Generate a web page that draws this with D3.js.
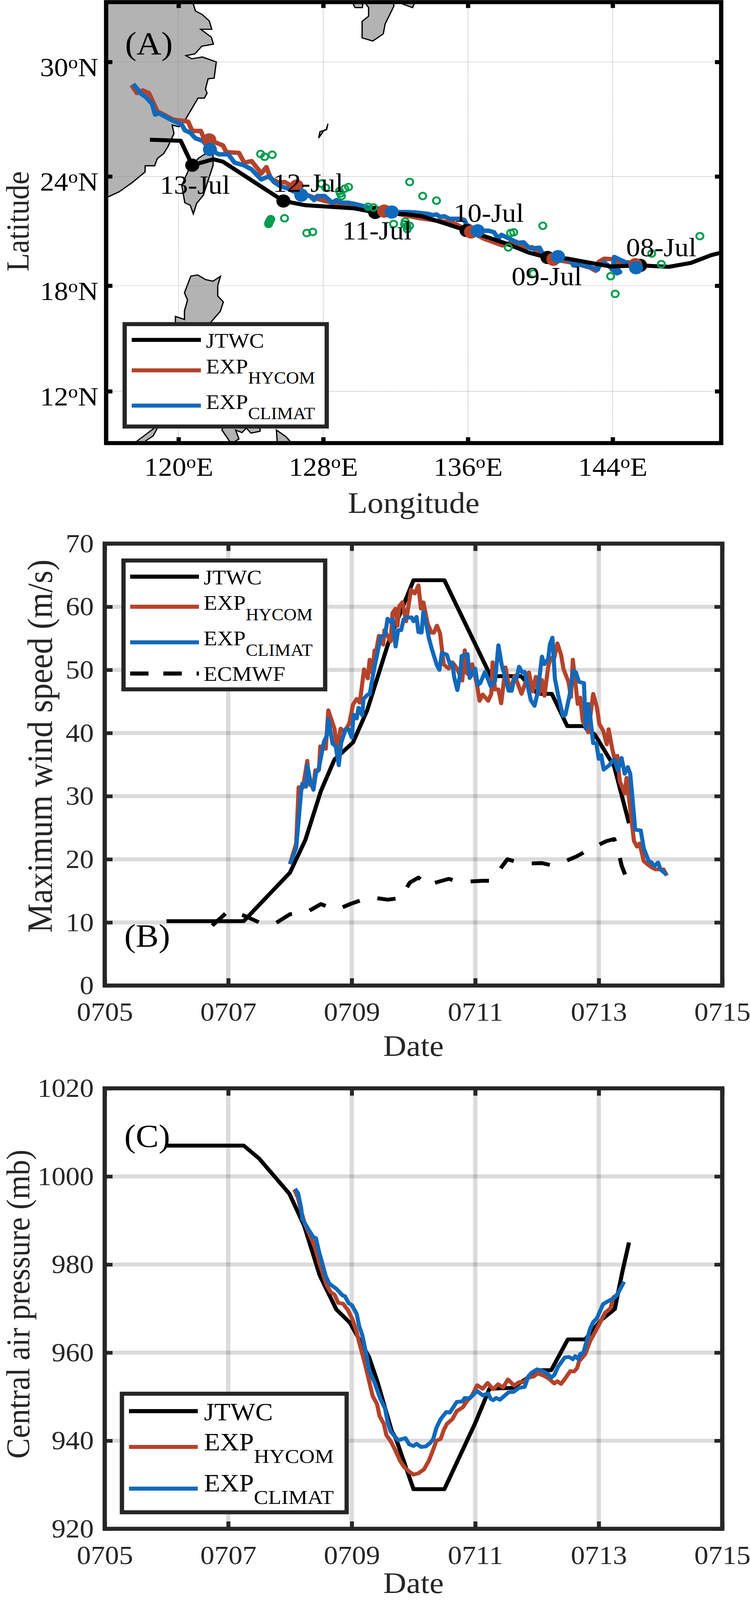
<!DOCTYPE html>
<html>
<head>
<meta charset="utf-8">
<script src="https://cdn.jsdelivr.net/npm/d3@7"></script>
<style>
  body { margin: 0; background: #fff; overflow: hidden; }
  text { font-family: "Liberation Serif", serif; }
</style>
</head>
<body>
<div id="chart"></div>
<script>
// Panel A: land outlines, [lon, lat]
const chinaCoast = [[116,33.2],[120.75,33.2],[120.82,32.9],[120.94,32.56],[121.29,32.4],[121.7,32.07],[121.84,31.65],[121.23,31.65],[121.82,31.25],[121.93,30.9],[121.29,30.8],[120.91,30.41],[120.41,30.32],[120.73,30.16],[121.32,30.25],[122.09,30],[121.97,29.17],[121.64,29.14],[121.49,28.61],[121.58,28.4],[121.43,28.14],[121.08,28.14],[120.35,26.97],[120.03,26.64],[119.65,26.73],[119.75,26.29],[119.42,25.6],[119.18,25.22],[118.83,24.96],[118.68,24.57],[118.16,24.57],[118.15,24.24],[117.43,23.66],[116.72,23.17],[116.12,22.9],[115.8,22.8]];
const taiwan = [[121.46,25.2],[121.11,24.98],[120.59,24.41],[120.18,23.52],[120.35,22.58],[120.65,22.44],[120.82,21.97],[121,22.54],[121.37,22.98],[121.91,24.59],[121.91,25.12]];
const kyushu = [[130.3,33.2],[130.37,32.9],[130.51,32.73],[130.51,32.3],[130.15,32.05],[130.15,31.22],[130.74,31.06],[131.32,31.42],[131.42,31.91],[131.91,32.81],[131.83,33.2]];
const koshiki = [[129.6,33.2],[129.66,32.9],[129.76,32.73],[130.17,32.73],[130.21,33.2]];
const shikoku = [[132.3,33.2],[132.41,32.9],[132.94,32.73],[133.02,32.9],[133.05,33.2]];
const okinawa = [[128.26,26.8],[128.17,26.5],[127.82,26.38],[127.75,26.05],[128.02,26.42],[128.19,26.5]];
const luzon = [[120.68,18.53],[121.06,18.6],[121.5,18.34],[121.91,18.25],[122.32,18.52],[122.17,18],[122.17,17.42],[122.48,17.09],[122.31,16.56],[121.76,15.91],[121.5,15.3],[119.83,15.3],[119.83,15.91],[119.83,16.27],[120.33,16.1],[120.33,16.58],[120.5,17.2],[120.33,17.6]];
const palawan = [[118.9,10.4],[118.83,9.87],[118.6,9.42],[118.19,9.13],[118.1,8.8],[117.6,8.8],[117.72,9.13],[118.66,9.87]];
const visayas = [[122.64,10.4],[122.4,9.76],[122.81,9.13],[122.9,8.8],[123.1,8.8],[123.16,9.13],[123.34,9.24],[123.16,9.76],[123.51,9.61],[123.75,9.87],[124.01,9.58],[124.51,9.69],[124.51,10.4]];
const mindanao = [[125.41,9.76],[125.92,9.39],[126.15,9.13],[126.25,8.8],[125.48,8.8]];
const landPolygons = [chinaCoast, taiwan, kyushu, koshiki, shikoku, okinawa, luzon, palawan, visayas, mindanao];

// Panel A: tracks, [lon, lat]
const jtwcTrack = [[150,19.84],[149.44,19.7],[148.33,19.27],[147.1,19.05],[145.52,19.13],[143.88,19.07],[141.48,19.51],[140.4,19.57],[139.37,19.84],[138.2,20.31],[136.91,20.75],[135.92,21.06],[134.76,21.44],[133.46,21.84],[132.6,21.95],[130.87,22.05],[129.72,22.27],[127.03,22.44],[125.8,22.67],[122.46,24.79],[121.93,24.92],[120.76,24.6],[120.12,25.9],[118.42,25.96]];
const hycomTrack = [[145.25,19.17],[144.87,19.3],[144.23,19.27],[143.95,18.9],[144.12,19.47],[143.53,19.5],[143.24,19.33],[143.06,18.83],[142.77,19],[141.83,19.27],[140.72,19.47],[139.84,19.84],[139.55,20.14],[139.2,20.11],[138.32,20.37],[137.91,20.24],[136.91,20.6],[136.17,20.98],[135.2,21.47],[133.3,21.74],[131.37,22.12],[130.54,22.27],[129.72,22.49],[128.67,22.53],[127.73,22.77],[127.03,23.03],[126.53,23.48],[126.2,23.52],[125.86,23.7],[125.57,23.66],[125.1,23.88],[124.86,24.5],[124.57,24.15],[124.45,24.33],[124.04,24.82],[123.63,24.74],[123.34,25.26],[122.64,25.3],[122.46,25.65],[121.7,25.95],[121.41,26.03],[121.23,26.42],[120.76,26.42],[120.53,26.91],[119.7,27.02],[118.83,27.45],[118.36,28.4],[118.03,28.54],[117.7,28.4],[117.4,28.82]];
const climatTrack = [[145.29,19],[144.87,19.23],[144.09,19.6],[144.05,19.2],[144.41,18.76],[144.23,18.69],[143.91,19],[143.53,19.31],[143.24,19.07],[143.18,18.9],[142.18,19.2],[141.83,19.13],[141.72,19.37],[140.98,19.62],[140.13,19.77],[139.96,20.11],[139.49,20.07],[139.31,20.17],[139.08,20.41],[138.79,20.38],[138.56,20.48],[137.85,20.82],[137.68,20.62],[137.44,20.96],[137.15,21.05],[136.54,21.04],[135.91,21.4],[135.8,21.64],[135.55,21.7],[134.98,21.7],[134.69,21.84],[134.47,21.8],[134.26,21.94],[134.04,21.9],[133.82,21.97],[133.18,22.04],[132.67,22.07],[131.79,22.07],[130.54,22.32],[129.84,22.49],[129.37,22.58],[129.02,22.58],[128.73,22.72],[128.49,22.58],[128.08,22.94],[127.67,22.94],[127.5,22.72],[127.26,22.94],[126.79,22.99],[126.03,23.35],[125.62,23.48],[125.27,23.7],[125.04,24.02],[124.57,23.84],[124.04,24.38],[123.63,24.59],[123.1,24.74],[122.75,25.18],[122.23,25.18],[121.74,25.44],[121.34,25.9],[120.94,26.03],[120.65,26.33],[120.35,26.46],[120.18,26.76],[119.65,26.98],[118.89,27.36],[118.71,27.28],[118.54,27.84],[118.19,28.2],[117.95,28.35],[117.49,28.87]];

// Daily positions, 08-Jul to 13-Jul
const dateLabels = ["08-Jul","09-Jul","10-Jul","11-Jul","12-Jul","13-Jul"];
const jtwcDaily = [[145.52,19.13],[140.4,19.57],[135.92,21.06],[130.87,22.05],[125.8,22.67],[120.76,24.6]];
const hycomDaily = [[145.25,19.17],[140.72,19.47],[136.17,20.98],[131.37,22.12],[126.53,23.48],[121.7,25.95]];
const climatDaily = [[145.29,19],[140.98,19.62],[136.54,21.04],[131.79,22.07],[126.79,22.99],[121.74,25.44]];

const ensemblePoints = [[124.54,25.2],[124.76,25.05],[125.18,25.16],[132.78,23.7],[133.5,22.94],[134.26,22.69],[127.9,23.61],[128.14,23.39],[128.9,23.21],[129.19,23.34],[129.4,23.43],[129.01,22.94],[128.95,23.08],[130.48,22.36],[130.78,22.32],[125.86,21.73],[124.98,21.42],[125,21.5],[125.05,21.58],[125.1,21.68],[125.06,21.62],[127.09,20.92],[127.42,20.98],[131.89,21.42],[132.53,21.55],[132.77,21.32],[132.65,21.14],[132.5,21.4],[132.62,21.3],[138.23,20.13],[138.36,20.92],[138.53,20.96],[140.14,21.32],[139.61,18.68],[143.89,18.53],[144.14,17.54],[146.16,19.79],[146.69,19.2],[148.82,20.75]];

const lonTicks = [120,128,136,144];
const latTicks = [12,18,24,30];

// Panel B: maximum wind speed, [day of July, m/s]
const jtwcWind = [[6,10.2],[7.25,10.2],[8,17.9],[8.25,23.1],[8.5,30.8],[8.72,35.8],[9.02,38.5],[9.25,43.6],[9.6,54.5],[10,64.2],[10.5,64.2],[10.89,56.3],[11.25,49],[11.74,49],[12.01,46.2],[12.24,46.2],[12.49,41.1],[12.76,41.1],[12.94,39.7],[13.25,34.7],[13.49,25.7]];
const hycomWind = [[8,19.3],[8.1,22.5],[8.14,31.4],[8.21,31.4],[8.28,35.6],[8.31,31.9],[8.38,31.4],[8.41,34.1],[8.47,34.2],[8.49,37.9],[8.58,37.5],[8.62,43.6],[8.72,40.7],[8.76,37.6],[8.82,40.7],[8.88,40.2],[8.96,41.5],[9.02,44.5],[9.08,45.4],[9.13,44.8],[9.2,50.1],[9.26,48.65],[9.29,51.6],[9.33,49.6],[9.37,53.1],[9.4,53.2],[9.44,55.4],[9.51,54],[9.53,56.3],[9.63,54.5],[9.66,59],[9.71,59.7],[9.74,57],[9.77,60.1],[9.82,60.7],[9.88,57.7],[9.96,62.7],[10.02,62.1],[10.08,63.4],[10.12,59.7],[10.16,60.7],[10.23,57.3],[10.29,55.9],[10.33,55.9],[10.38,57],[10.43,55.8],[10.49,50.85],[10.57,50.2],[10.63,51.2],[10.7,50.3],[10.79,48.3],[10.83,53.1],[10.85,49.6],[10.91,49.1],[10.95,50.9],[11.02,48.1],[11.07,45.1],[11.12,46.1],[11.21,45.1],[11.26,46.2],[11.28,51.2],[11.32,46.9],[11.375,46.9],[11.42,44.7],[11.49,50.4],[11.56,46.7],[11.64,49.1],[11.75,46.2],[11.87,49.6],[11.93,46.6],[11.98,48.9],[12.03,46.2],[12.08,48.4],[12.12,45.9],[12.18,50.4],[12.22,51.9],[12.28,51.9],[12.33,54.2],[12.39,52.4],[12.43,50.1],[12.51,48.1],[12.55,45.7],[12.58,51.6],[12.66,44.6],[12.7,45.6],[12.74,41.9],[12.83,40.1],[12.91,46.2],[12.97,44.1],[13.01,41.4],[13.07,40.4],[13.13,38.2],[13.16,40.6],[13.22,37.4],[13.25,36.2],[13.3,36.4],[13.34,32.4],[13.42,30.4],[13.45,32.9],[13.51,28],[13.57,22.9],[13.62,22],[13.66,22.5],[13.73,19.7],[13.79,19.2],[13.86,18.7],[13.92,18.4],[14.05,18.4],[14.1,17.4]];
const climatWind = [[8,19.2],[8.1,21.8],[8.18,30.7],[8.2,32],[8.26,31.5],[8.28,34.9],[8.33,32.4],[8.38,31],[8.42,33.7],[8.46,34.1],[8.55,38.6],[8.6,39.7],[8.62,42.2],[8.69,38.3],[8.74,37.9],[8.79,34.9],[8.83,38.5],[8.9,40.6],[8.95,40.6],[9,39.3],[9.03,42.9],[9.08,42.3],[9.11,44],[9.17,42.8],[9.19,45.4],[9.26,46.1],[9.29,46.1],[9.37,50.6],[9.4,51.9],[9.47,55.3],[9.54,55.5],[9.58,58.1],[9.63,57.6],[9.66,58],[9.71,53.7],[9.75,56.3],[9.8,56.3],[9.84,58],[9.9,58.3],[9.97,58.3],[10,57.7],[10.05,58.4],[10.08,56],[10.13,55.9],[10.16,59.2],[10.21,57.1],[10.25,55],[10.3,53.2],[10.38,50.7],[10.42,50],[10.46,52.7],[10.54,52.4],[10.59,50.9],[10.63,51],[10.66,48.8],[10.71,46.8],[10.76,49.6],[10.78,52.2],[10.875,52.5],[10.91,48.7],[11,50.2],[11.04,47.6],[11.08,47.9],[11.16,49.7],[11.25,47.4],[11.32,48.2],[11.375,53.9],[11.43,50.7],[11.47,49.4],[11.54,46.7],[11.59,46.7],[11.63,48.6],[11.67,48.7],[11.71,50.5],[11.76,49.6],[11.8,49.7],[11.9,45.2],[11.96,44.3],[12.01,46.4],[12.08,52.1],[12.12,50.9],[12.18,51.7],[12.21,54.1],[12.25,55.1],[12.29,48.6],[12.34,46.1],[12.42,42.7],[12.46,42.9],[12.53,46.1],[12.59,49.9],[12.63,49.6],[12.68,48.1],[12.76,47.9],[12.79,40.7],[12.83,44.6],[12.86,42.7],[12.91,38.4],[12.96,38.4],[13,35.9],[13.04,36.5],[13.08,34.2],[13.17,34.9],[13.25,35.9],[13.31,34.05],[13.37,36.05],[13.42,33.55],[13.47,34.6],[13.51,33.55],[13.57,27.05],[13.59,24.7],[13.68,24.55],[13.73,21.7],[13.81,19.7],[13.85,19.55],[13.9,18.9],[13.96,19.5],[14,18.4],[14.1,17.55]];
const ecmwfWind = [[6.74,9.5],[7,11.8],[7.25,11.1],[7.5,10],[7.74,9.7],[8,11.3],[8.25,11.5],[8.5,12.9],[8.75,12],[9,13],[9.3,14],[9.58,13.6],[9.79,13.85],[9.94,16.3],[10.08,17.1],[10.25,15.75],[10.32,16.2],[10.57,16.9],[10.75,16.4],[11.13,16.6],[11.25,16.6],[11.36,17.9],[11.52,20],[11.77,19.3],[12.08,19.4],[12.25,19],[12.36,19.3],[12.63,20.4],[12.87,21.7],[13.13,22.9],[13.25,23.2],[13.31,21.7],[13.37,19],[13.47,16.5]];

// Panel C: central air pressure, [day of July, mb]
const jtwcPressure = [[6,1007],[7.25,1007],[7.5,1004.06],[7.99,996.06],[8.23,988.8],[8.48,977.6],[8.75,969.8],[8.97,966.8],[9.28,959],[9.42,953.2],[9.65,942.1],[9.71,940.7],[10,929],[10.5,929],[11,944],[11.23,951.8],[11.6,952],[12.04,956],[12.23,956],[12.5,963],[12.78,963],[13.04,967.4],[13.26,969.9],[13.38,978.2],[13.49,985]];
const hycomPressure = [[8.07,997],[8.13,995.1],[8.18,992.2],[8.24,989.2],[8.31,987],[8.37,985.1],[8.41,983.6],[8.48,980.2],[8.54,977.6],[8.59,975.4],[8.66,973.7],[8.72,973.2],[8.78,971.3],[8.86,971.1],[8.94,969.6],[9.01,967.6],[9.07,965.1],[9.14,961.3],[9.2,958.2],[9.25,955.4],[9.3,952.4],[9.34,950.1],[9.41,948.3],[9.45,945.6],[9.52,943.8],[9.56,941.3],[9.63,939.9],[9.7,938],[9.78,935.5],[9.85,934],[9.93,933],[10,932.3],[10.08,932.6],[10.17,933.5],[10.25,935.5],[10.32,938],[10.37,940],[10.44,940.4],[10.49,942.4],[10.54,943.8],[10.63,944.9],[10.7,946.7],[10.8,947.6],[10.86,948.9],[10.95,950.3],[11.03,952.6],[11.12,951.8],[11.2,953.1],[11.29,951.7],[11.37,952.8],[11.45,952.1],[11.53,953.9],[11.63,952.5],[11.71,953.3],[11.78,953.3],[11.86,954.3],[11.95,954.6],[12.01,955.3],[12.12,954.7],[12.2,954],[12.28,953],[12.33,953.5],[12.39,952.9],[12.45,954],[12.54,955.8],[12.6,955.7],[12.65,956.5],[12.68,958],[12.78,959.6],[12.86,962.6],[13,966.2],[13.1,969],[13.19,970.1],[13.24,972.6],[13.32,973.2]];
const climatPressure = [[8.08,997.2],[8.13,996.2],[8.18,992.9],[8.2,990.3],[8.31,987.7],[8.38,986.2],[8.42,986],[8.47,982.9],[8.52,980.4],[8.58,977.3],[8.64,975.6],[8.75,974.5],[8.85,973],[8.89,972.8],[8.95,971.2],[9,970.8],[9.08,968.8],[9.12,966],[9.17,964],[9.24,959.3],[9.28,956],[9.37,953.2],[9.46,949.6],[9.54,947.3],[9.58,944.3],[9.63,942.1],[9.75,940.1],[9.87,940.6],[9.93,939.2],[10,938.8],[10.05,939.3],[10.12,938.6],[10.2,938.7],[10.27,939.5],[10.32,940.4],[10.37,942.9],[10.44,944.9],[10.53,946.5],[10.59,946.4],[10.7,948.8],[10.79,948.9],[10.83,949.7],[10.91,949.6],[11.03,951.3],[11.12,950.3],[11.21,950.7],[11.25,949.5],[11.29,949.2],[11.34,949.7],[11.4,949.3],[11.49,950.4],[11.54,951],[11.62,951.1],[11.71,952],[11.8,952.2],[11.86,954.6],[11.91,955.4],[12,956.2],[12.1,955.8],[12.18,955.1],[12.23,954.3],[12.28,954.9],[12.34,956.8],[12.45,958.9],[12.52,959],[12.58,958.5],[12.62,959.2],[12.67,958.5],[12.7,959.7],[12.75,959.9],[12.86,965.4],[12.91,966.9],[12.97,967.8],[13.07,971],[13.13,971.5],[13.26,972.5],[13.32,973.7],[13.41,976.1]];

const dayTicks = [5,7,9,11,13,15];
const dayGrid = [7,9,11,13];
const windTicks = [0,10,20,30,40,50,60,70];
const pressureTicks = [920,940,960,980,1000,1020];

const RED = "#b5432a", BLUE = "#1169bb", GREEN = "#009e4f", DARK = "#262626";

// the browser window may be shorter than the 4359 asked for, so the drawing is fitted to it
const svg = d3.select("#chart").append("svg")
    .attr("width", 1919)
    .attr("height", Math.min(4359, window.innerHeight))
    .attr("viewBox", "0 0 1919 4359")
    .attr("preserveAspectRatio", "none")
    .style("display", "block");

const dayLabel = d => "07" + String(d).padStart(2, "0");
const lineOf = (x, y) => d3.line().x(d => x(d[0])).y(d => y(d[1]));

function frame(g, x0, x1, y0, y1, color, id) {
    g.append("clipPath").attr("id", id)
        .append("rect").attr("x", x0).attr("y", y0).attr("width", x1 - x0).attr("height", y1 - y0);
    return () => g.append("rect")
        .attr("x", x0).attr("y", y0).attr("width", x1 - x0).attr("height", y1 - y0)
        .attr("fill", "none").attr("stroke", color).attr("stroke-width", 11);
}

function styleAxis(sel, color, tickWidth) {
    sel.select(".domain").remove();
    sel.selectAll("line").attr("stroke", color).attr("stroke-width", tickWidth);
    sel.selectAll("text").attr("fill", color).attr("font-family", "Liberation Serif").attr("font-size", 72);
}

function drawLegend(g, box, lines, items, fs, subFs) {
    g.append("rect")
        .attr("x", box.x0).attr("y", box.y0).attr("width", box.x1 - box.x0).attr("height", box.y1 - box.y0)
        .attr("fill", "#fff").attr("stroke", DARK).attr("stroke-width", 11);
    items.forEach(it => {
        const l = g.append("line")
            .attr("x1", lines.x0).attr("x2", lines.x1).attr("y1", it.lineY).attr("y2", it.lineY)
            .attr("stroke", it.color).attr("stroke-width", 11);
        if (it.dash) l.attr("stroke-dasharray", it.dash);
        const t = g.append("text").attr("x", lines.text).attr("y", it.base)
            .attr("font-size", fs).attr("fill", "#000");
        t.append("tspan").text(it.name);
        if (it.sub) {
            t.append("tspan").attr("dy", it.subDy).attr("font-size", subFs).text(it.sub);
        }
    });
}

// ---------- Panel A: track map ----------
(function () {
    const g = svg.append("g");
    const projection = d3.geoMercator().scale(2652).translate([0, 0]);
    const [ox, oy] = projection([120, 30]);
    projection.translate([456.7 - ox, 168.7 - oy]);
    const X = lon => projection([lon, 30])[0];
    const Y = lat => projection([120, lat])[1];
    const x0 = X(116), x1 = X(150), y0 = Y(33), y1 = Y(9);
    const closeFrame = frame(g, x0, x1, y0, y1, "#000", "clipA");
    const plot = g.append("g").attr("clip-path", "url(#clipA)");
    const line = d3.line().x(d => projection(d)[0]).y(d => projection(d)[1]);

    plot.selectAll("path.land").data(landPolygons).join("path")
        .attr("class", "land")
        .attr("d", d => line(d) + "Z")
        .attr("fill", "#b3b3b3").attr("stroke", "#000").attr("stroke-width", 3.3).attr("stroke-linejoin", "miter");

    lonTicks.forEach(v => plot.append("line").attr("x1", X(v)).attr("x2", X(v)).attr("y1", y0).attr("y2", y1)
        .attr("stroke", "#888").attr("stroke-width", 1.2).attr("stroke-dasharray", "2 2"));
    latTicks.forEach(v => plot.append("line").attr("y1", Y(v)).attr("y2", Y(v)).attr("x1", x0).attr("x2", x1)
        .attr("stroke", "#888").attr("stroke-width", 1.2).attr("stroke-dasharray", "2 2"));

    [[hycomTrack, RED], [climatTrack, BLUE], [jtwcTrack, "#000"]].forEach(([pts, color]) => {
        plot.append("path").attr("d", line(pts)).attr("fill", "none")
            .attr("stroke", color).attr("stroke-width", color === "#000" ? 11 : 12).attr("stroke-linejoin", "round");
    });
    [[jtwcDaily, "#000"], [hycomDaily, RED], [climatDaily, BLUE]].forEach(([pts, color]) => {
        plot.selectAll(null).data(pts).join("circle")
            .attr("cx", d => projection(d)[0]).attr("cy", d => projection(d)[1])
            .attr("r", 18).attr("fill", color);
    });
    plot.selectAll("circle.ens").data(ensemblePoints).join("circle")
        .attr("class", "ens")
        .attr("cx", d => projection(d)[0]).attr("cy", d => projection(d)[1])
        .attr("r", 9).attr("fill", "none").attr("stroke", GREEN).attr("stroke-width", 5);

    // date labels hang off the JTWC daily points
    const labelOffset = [[-36, -25], [-92, 75], [-33, -24], [-84, 74], [-27, -25], [-83, 78]];
    g.selectAll("text.date").data(dateLabels).join("text")
        .attr("class", "date")
        .attr("x", (d, i) => projection(jtwcDaily[i])[0] + labelOffset[i][0])
        .attr("y", (d, i) => projection(jtwcDaily[i])[1] + labelOffset[i][1])
        .attr("font-size", 72).attr("fill", "#000").text(d => d);

    g.append("text").attr("x", 320).attr("y", 148).attr("font-size", 88).text("(A)");

    const xScale = d3.scaleLinear().domain([116, 150]).range([x0, x1]);
    const yScale = d3.scaleIdentity();
    const bottom = g.append("g").attr("transform", `translate(0,${y1})`)
        .call(d3.axisBottom(xScale).tickValues(lonTicks).tickSize(-16).tickPadding(38).tickSizeOuter(0));
    styleAxis(bottom, "#000", 11);
    bottom.selectAll("text").text(null).each(function (d) {
        const t = d3.select(this);
        t.append("tspan").text(d);
        t.append("tspan").attr("dy", "-0.42em").attr("font-size", 50).text("o");
        t.append("tspan").attr("dy", "0.292em").text("E");
    });
    const top = g.append("g").attr("transform", `translate(0,${y0})`)
        .call(d3.axisTop(xScale).tickValues(lonTicks).tickSize(-16).tickFormat("").tickSizeOuter(0));
    styleAxis(top, "#000", 11);

    const latPos = latTicks.map(Y);
    const left = g.append("g").attr("transform", `translate(${x0},0)`)
        .call(d3.axisLeft(yScale).tickValues(latPos).tickSize(-16).tickPadding(20).tickSizeOuter(0));
    styleAxis(left, "#000", 11);
    left.selectAll("text").attr("dy", "0.53em").text(null).each(function (d, i) {
        const t = d3.select(this);
        t.append("tspan").text(latTicks[i]);
        t.append("tspan").attr("dy", "-0.42em").attr("font-size", 50).text("o");
        t.append("tspan").attr("dy", "0.292em").text("N");
    });
    const right = g.append("g").attr("transform", `translate(${x1},0)`)
        .call(d3.axisRight(yScale).tickValues(latPos).tickSize(-16).tickFormat("").tickSizeOuter(0));
    styleAxis(right, "#000", 11);
    closeFrame();

    g.append("text").attr("x", (x0 + x1) / 2).attr("y", 1397).attr("text-anchor", "middle")
        .attr("font-size", 82).attr("fill", DARK).text("Longitude");
    g.append("text").attr("transform", "translate(73,603) rotate(-90)").attr("text-anchor", "middle")
        .attr("font-size", 82).attr("fill", DARK).text("Latitude");

    drawLegend(g, { x0: 319, x1: 836, y0: 883, y1: 1162 }, { x0: 337, x1: 514, text: 527 }, [
        { name: "JTWC", color: "#000", lineY: 926, base: 947 },
        { name: "EXP", sub: "HYCOM", subDy: 28, color: RED, lineY: 1009, base: 1017 },
        { name: "EXP", sub: "CLIMAT", subDy: 28, color: BLUE, lineY: 1105, base: 1114 }
    ], 57, 46);
})();

// ---------- Panels B and C share the same layout ----------
function timePanel(opt) {
    const g = svg.append("g");
    const x = d3.scaleLinear().domain([5, 15]).range([268, 1848]);
    const y = d3.scaleLinear().domain(opt.domain).range([opt.bottom, opt.top]);
    const closeFrame = frame(g, 268, 1848, opt.top, opt.bottom, DARK, opt.id);

    const grid = g.append("g").attr("stroke", "#000").attr("stroke-opacity", 0.14).attr("stroke-width", 11);
    grid.selectAll("line.v").data(dayGrid).join("line").attr("class", "v")
        .attr("x1", x).attr("x2", x).attr("y1", opt.top).attr("y2", opt.bottom);
    grid.selectAll("line.h").data(opt.grid).join("line").attr("class", "h")
        .attr("y1", y).attr("y2", y).attr("x1", 268).attr("x2", 1848);

    const bottom = g.append("g").attr("transform", `translate(0,${opt.bottom})`)
        .call(d3.axisBottom(x).tickValues(dayTicks).tickFormat(dayLabel).tickSize(-20).tickPadding(45).tickSizeOuter(0));
    styleAxis(bottom, DARK, 10);
    const top = g.append("g").attr("transform", `translate(0,${opt.top})`)
        .call(d3.axisTop(x).tickValues(dayTicks).tickFormat("").tickSize(-20).tickSizeOuter(0));
    styleAxis(top, DARK, 10);
    const left = g.append("g").attr("transform", "translate(268,0)")
        .call(d3.axisLeft(y).tickValues(opt.ticks).tickFormat(d3.format("d")).tickSize(-20).tickPadding(28).tickSizeOuter(0));
    styleAxis(left, DARK, 10);
    const right = g.append("g").attr("transform", "translate(1848,0)")
        .call(d3.axisRight(y).tickValues(opt.ticks).tickFormat("").tickSize(-20).tickSizeOuter(0));
    styleAxis(right, DARK, 10);

    const plot = g.append("g").attr("clip-path", `url(#${opt.id})`);
    const line = lineOf(x, y);
    opt.series.forEach(s => {
        const p = plot.append("path").attr("d", line(s.values)).attr("fill", "none")
            .attr("stroke", s.color).attr("stroke-width", 10.5).attr("stroke-linejoin", "round");
        if (s.dash) p.attr("stroke-dasharray", s.dash);
    });
    closeFrame();

    g.append("text").attr("x", 1058).attr("y", opt.dateBase).attr("text-anchor", "middle")
        .attr("font-size", 82).attr("fill", DARK).text("Date");
    g.append("text").attr("transform", `translate(${opt.yLabel.x},${opt.yLabel.y}) rotate(-90)`)
        .attr("text-anchor", "middle").attr("font-size", opt.yLabel.size).attr("fill", DARK).text(opt.yLabel.text);
    g.append("text").attr("x", 318).attr("y", opt.tagBase).attr("font-size", 88).text(opt.tag);
    drawLegend(g, opt.legendBox, opt.legendLines, opt.legend, opt.legendFs, opt.legendSubFs);
}

timePanel({
    id: "clipB", domain: [0, 70], top: 1481, bottom: 2685,
    ticks: windTicks, grid: [10, 20, 30, 40, 50, 60],
    series: [
        { values: jtwcWind, color: "#000" },
        { values: hycomWind, color: RED },
        { values: climatWind, color: BLUE },
        { values: ecmwfWind, color: "#000", dash: "47 47" }
    ],
    dateBase: 2877, tag: "(B)", tagBase: 2579,
    yLabel: { text: "Maximum wind speed (m/s)", x: 133, y: 2033, size: 90 },
    legendBox: { x0: 316, x1: 832, y0: 1527, y1: 1878 },
    legendLines: { x0: 333, x1: 509, text: 521 },
    legendFs: 57, legendSubFs: 46,
    legend: [
        { name: "JTWC", color: "#000", lineY: 1571, base: 1592 },
        { name: "EXP", sub: "HYCOM", subDy: 29, color: RED, lineY: 1653, base: 1661 },
        { name: "EXP", sub: "CLIMAT", subDy: 29, color: BLUE, lineY: 1750, base: 1758 },
        { name: "ECMWF", color: "#000", lineY: 1835, base: 1855, dash: "47 38" }
    ]
});

timePanel({
    id: "clipC", domain: [920, 1020], top: 2965, bottom: 4165,
    ticks: pressureTicks, grid: [940, 960, 980, 1000],
    series: [
        { values: jtwcPressure, color: "#000" },
        { values: hycomPressure, color: RED },
        { values: climatPressure, color: BLUE }
    ],
    dateBase: 4340, tag: "(C)", tagBase: 3124,
    yLabel: { text: "Central air pressure (mb)", x: 75, y: 3553, size: 84 },
    legendBox: { x0: 312, x1: 887, y0: 3797, y1: 4120 },
    legendLines: { x0: 330, x1: 506, text: 522 },
    legendFs: 67.5, legendSubFs: 55,
    legend: [
        { name: "JTWC", color: "#000", lineY: 3844.5, base: 3869 },
        { name: "EXP", sub: "HYCOM", subDy: 34, color: RED, lineY: 3942, base: 3951 },
        { name: "EXP", sub: "CLIMAT", subDy: 34, color: BLUE, lineY: 4055.5, base: 4063 }
    ]
});
</script>
</body>
</html>
